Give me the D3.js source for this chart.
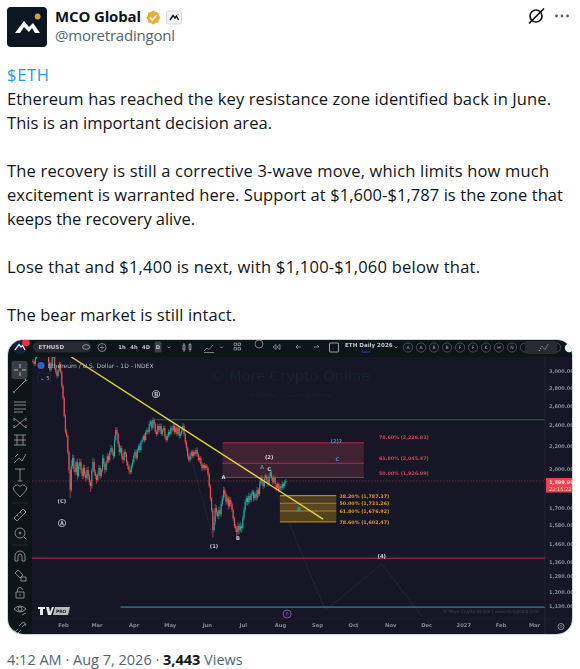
<!DOCTYPE html>
<html>
<head>
<meta charset="utf-8">
<script src="https://cdn.jsdelivr.net/npm/d3@7"></script>
<style>
html,body{margin:0;padding:0;background:#fff;overflow:hidden}
svg{display:block}
</style>
</head>
<body>
<svg id="c" width="580" height="669"></svg>
<script>
// ---------- data ----------
const tweetLines = [
  "Ethereum has reached the key resistance zone identified back in June.",
  "This is an important decision area.",
  "",
  "The recovery is still a corrective 3-wave move, which limits how much",
  "excitement is warranted here. Support at $1,600-$1,787 is the zone that",
  "keeps the recovery alive.",
  "",
  "Lose that and $1,400 is next, with $1,100-$1,060 below that.",
  "",
  "The bear market is still intact."
];
const firstCandle = "2026-01-07";
const closes = [3114,3089,3164,3246,3301,3356,3328,3384,3412,3356,3301,3328,3274,3114,3012,3063,3246,3193,3037,2988,
2938,3012,3089,2988,2821,2682,2489,2328,2290,2142,1988,1829,2021,2090,2005,1971,2055,1939,2021,2055,
1988,1939,2005,1955,1923,1988,1939,1891,1860,1988,2055,1971,1939,1907,1955,2005,1939,1988,2090,2038,
1988,2055,2107,2072,2142,2178,2142,2107,2252,2347,2309,2215,2142,2178,2107,2072,2142,2124,2055,2021,
1988,1971,2021,2055,2107,2142,2090,2160,2196,2160,2233,2252,2290,2252,2328,2347,2328,2407,2427,2367,
2447,2407,2328,2309,2387,2347,2387,2309,2347,2367,2290,2252,2290,2328,2309,2367,2347,2387,2328,2367,
2309,2367,2290,2309,2347,2387,2309,2233,2178,2107,2072,2107,2142,2107,2142,2124,2160,2124,2072,2090,
2038,2005,2030,2005,2021,2005,1955,1860,1769,1683,1549,1601,1697,1669,1641,1683,1655,1726,1769,1829,
1799,1740,1769,1711,1755,1726,1683,1628,1575,1562,1536,1575,1549,1575,1562,1628,1683,1740,1769,1740,
1784,1755,1799,1814,1769,1799,1769,1829,1799,1875,1923,1891,1860,1923,1939,1907,1875,1939,1971,1923,
1891,1923,1875,1844,1875,1829,1860,1844,1875,1860,1891,1899.99];
const upperWicks = [30,20,40,30,20,30,20,30,25,20,15,30,20,30,25,40,30,20,25,20,
30,20,30,25,20,15,15,20,25,15,15,10,50,30,25,30,20,30,25,30,
25,20,30,25,20,25,30,20,15,20,40,25,20,15,20,25,20,15,30,25,
20,15,25,20,15,30,20,25,40,25,30,15,20,25,20,15,20,25,20,15,
15,15,20,25,20,25,20,15,20,25,15,20,15,25,20,25,20,30,25,20,
25,20,15,20,25,20,25,20,15,25,20,15,20,25,20,30,20,25,20,25,
20,25,15,20,25,30,20,15,15,15,20,25,15,20,15,20,20,25,15,20,
15,20,15,20,15,15,15,15,15,10,15,40,30,20,15,25,20,25,20,25,
20,15,25,15,25,20,15,10,10,15,15,25,15,25,15,20,20,20,20,15,
25,20,20,20,15,20,15,25,15,25,20,25,15,25,25,15,15,25,30,20,
15,25,15,10,20,15,20,15,20,15,15,15];
const lowerWicks = [20,25,20,15,20,15,25,20,15,25,30,20,40,30,20,25,20,30,20,25,
30,15,20,20,25,20,15,20,15,20,25,60,15,25,30,25,20,30,15,25,
30,25,20,25,30,15,30,25,45,20,15,20,25,30,15,20,25,15,20,25,
30,15,20,25,15,20,25,30,15,20,15,25,30,15,25,30,15,25,30,25,
30,20,15,20,15,20,25,15,20,25,15,20,15,25,15,20,25,15,20,25,
15,25,20,25,15,20,25,15,20,15,25,20,15,20,25,15,20,15,25,15,
20,15,25,20,15,15,20,25,25,20,15,20,25,15,20,15,20,25,15,20,
15,25,15,20,15,20,20,15,20,15,46,15,20,25,15,20,15,20,15,20,
25,20,15,25,15,20,15,20,15,25,46,20,25,15,30,15,15,15,20,25,
15,20,15,15,25,15,20,15,20,15,15,20,25,15,20,25,20,15,15,20,
20,15,25,20,15,20,15,20,15,20,15,15];

const priceTicks = [3000,2800,2600,2400,2200,2000,1700,1580,1460,1360,1280,1200,1130];
const monthTicks = ["2026-02-01","2026-03-01","2026-04-01","2026-05-01","2026-06-01","2026-07-01","2026-08-01","2026-09-01","2026-10-01","2026-11-01","2026-12-01","2027-01-01","2027-02-01","2027-03-01"];
const monthLabels = ["Feb","Mar","Apr","May","Jun","Jul","Aug","Sep","Oct","Nov","Dec","2027","Feb","Mar"];

const redFibLevels = [2226.83,2045.47,1926.99];
const redFibNames = ["78.60%","61.80%","50.00%"];
const orangeFibLevels = [1787.37,1731.26,1676.92,1602.47];
const orangeFibNames = ["38.20%","50.00%","61.80%","78.60%"];
const redFibDates = ["2026-06-14","2026-10-10"];
const orangeFibDates = ["2026-08-01","2026-09-17"];
const trendDates = ["2026-02-08","2026-09-06"];
const trendPrices = [3180,1621];
const greenLevel = 2450, greenStart = "2026-04-18";
const redLevel = 1378;
const tealLevel = 1125, tealStart = "2026-03-21";
const lastPrice = 1899.99;
const projectionA = [["2026-05-15",2252],["2026-06-06",1503]];
const projectionB = [["2026-07-22",1971],["2026-09-08",1110],["2026-10-25",1345],["2026-11-30",1065]];
const waveLabels = [
  ["2026-04-20",2720,"Ⓑ","#c4c7cf"],["2026-01-31",1745,"(C)","#c4c7cf"],["2026-01-31",1590,"Ⓐ","#c4c7cf"],
  ["2026-06-07",1445,"(1)","#c4c7cf"],["2026-06-27",1495,"B","#c4c7cf"],["2026-06-15",1925,"A","#d8dae0"],
  ["2026-07-23",2095,"(2)","#d8dae0"],["2026-07-17",2005,"A","#2aa198"],["2026-07-23",1990,"C","#d8dae0"],
  ["2026-09-17",2240,"(2)?","#2b9fc0"],["2026-09-18",2075,"C","#2b9fc0"],["2026-08-17",1685,"B","#2b9fc0"],
  ["2026-10-25",1388,"(4)","#d8dae0"]
];
const intervalButtons = ["1h","4h","4D","D"];
const drawingLetters = ["A","A","B","B","F","F","K","H","N"];

// ---------- scales ----------
const svg = d3.select("#c");
const t = s => new Date(s + "T00:00:00Z");
const x = d3.scaleUtc().domain([t("2026-02-01"), t("2027-03-01")]).range([63, 534]);
const y = d3.scaleLog().domain([3000, 1130]).range([371, 606]);
const plot = {l:32, r:545, t:357, b:619};
const frame = {l:8, r:572, t:340, b:634};

const defs = svg.append("defs");
defs.append("filter").attr("id","soft").attr("x","-2%").attr("y","-2%").attr("width","104%").attr("height","104%")
  .append("feGaussianBlur").attr("stdDeviation",0.55);
defs.append("clipPath").attr("id","frameClip").append("rect")
  .attr("x",frame.l).attr("y",frame.t).attr("width",frame.r-frame.l).attr("height",frame.b-frame.t).attr("rx",15);
defs.append("clipPath").attr("id","plotClip").append("rect")
  .attr("x",plot.l).attr("y",plot.t).attr("width",plot.r-plot.l).attr("height",plot.b-plot.t);

// ---------- tweet chrome ----------
const uiFont = "'Open Sans','Noto Sans',sans-serif";
const head = svg.append("g").attr("font-family",uiFont);
head.append("rect").attr("x",7).attr("y",7).attr("width",40).attr("height",40).attr("rx",4).attr("fill","#0d1722");
head.append("path").attr("d","M15,33 L24,21 L29,27 L33,23 L40,33 L35,33 L32,28 L29,32 L24,27 L20,33 Z").attr("fill","#fff");
head.append("circle").attr("cx",37.6).attr("cy",16.5).attr("r",2.9).attr("fill","#c9a34a");
head.append("text").attr("x",55).attr("y",22).attr("font-size",15).attr("font-weight",700).attr("fill","#0f1419")
  .attr("textLength",86).text("MCO Global");
const star = d3.range(16).map(i => { const r = i%2 ? 5.9 : 7.2, a = i*Math.PI/8; return [153.3+r*Math.cos(a), 17.5+r*Math.sin(a)]; });
head.append("path").attr("d",d3.line()(star)+"Z").attr("fill","#e2b033");
head.append("path").attr("d","M150,17.7 L152.4,20 L156.6,15.2").attr("fill","none").attr("stroke","#fff").attr("stroke-width",1.6);
head.append("rect").attr("x",166.5).attr("y",11).attr("width",15).attr("height",13).attr("rx",1.5).attr("fill","#eff3f4").attr("stroke","#d5dcdf");
head.append("path").attr("d","M170,20 L173,15.5 L175,18 L176.5,16 L178.5,20").attr("fill","none").attr("stroke","#0d1722").attr("stroke-width",1.4);
head.append("circle").attr("cx",178).attr("cy",14.5).attr("r",1).attr("fill","#c9a34a");
head.append("text").attr("x",55).attr("y",41).attr("font-size",15).attr("fill","#536471")
  .attr("textLength",120).text("@moretradingonl");
head.append("circle").attr("cx",536).attr("cy",16).attr("r",6).attr("fill","none").attr("stroke","#0f1419").attr("stroke-width",1.7);
head.append("path").attr("d","M529,23.5 L544,8.5").attr("stroke","#0f1419").attr("stroke-width",1.7);
[556.5,562,567.5].forEach(cx => head.append("circle").attr("cx",cx).attr("cy",16).attr("r",1.4).attr("fill","#536471"));

head.append("text").attr("x",7).attr("y",81).attr("font-size",16.5).attr("fill","#1d9bf0").attr("textLength",42).text("$ETH");
const lineWidths = [544,265,0,542,556,188,0,473,0,229];
head.selectAll("text.body").data(tweetLines).join("text").attr("class","body")
  .attr("x",7).attr("y",(d,i)=>105+i*24).attr("font-size",16.5).attr("fill","#0f1419")
  .attr("textLength",(d,i)=>lineWidths[i]||null).text(d=>d);

const foot = head.append("text").attr("x",7).attr("y",665).attr("font-size",14.5).attr("fill","#536471");
foot.append("tspan").text("4:12 AM · Aug 7, 2026 · ");
foot.append("tspan").attr("font-weight",700).attr("fill","#0f1419").text("3,443");
foot.append("tspan").text(" Views");

// ---------- chart image ----------
svg.append("rect").attr("x",frame.l-0.5).attr("y",frame.t-0.5).attr("width",frame.r-frame.l+1).attr("height",frame.b-frame.t+1).attr("rx",15)
  .attr("fill","none").attr("stroke","#cfd9de").attr("stroke-width",1);
const chart = svg.append("g").attr("clip-path","url(#frameClip)").append("g").attr("filter","url(#soft)");
const monoFont = "'DejaVu Sans',sans-serif";
chart.attr("font-family",monoFont);
chart.append("rect").attr("x",frame.l).attr("y",frame.t).attr("width",frame.r-frame.l).attr("height",frame.b-frame.t).attr("fill","#151925");

// watermark
chart.append("text").attr("x",290).attr("y",381).attr("text-anchor","middle").attr("font-size",14.6).attr("fill","#1c202d").text("© More Crypto Online");
chart.append("text").attr("x",290).attr("y",397).attr("text-anchor","middle").attr("font-size",4.8).attr("fill","#1f2431").text("MCO Global  |  www.mcoglobal.com");

const plotG = chart.append("g").attr("clip-path","url(#plotClip)");
const px = d => x(t(d));

// faint projection paths
const projLine = d3.line().x(d=>px(d[0])).y(d=>y(d[1]));
[projectionA, projectionB].forEach(p => plotG.append("path").attr("d",projLine(p)).attr("fill","none").attr("stroke","#222632").attr("stroke-width",0.9));

// zones
function zone(levels, dates, fills, stroke){
  const x0 = px(dates[0]), x1 = px(dates[1]);
  d3.pairs(levels).forEach((p,i) => plotG.append("rect").attr("x",x0).attr("width",x1-x0)
    .attr("y",y(p[0])).attr("height",y(p[1])-y(p[0])).attr("fill",fills[i]));
  levels.forEach(l => plotG.append("line").attr("x1",x0).attr("x2",x1).attr("y1",y(l)).attr("y2",y(l)).attr("stroke",stroke).attr("stroke-width",1.1));
}
zone(redFibLevels, redFibDates, ["#3f2233","#3a2030"], "#a03350");
zone(orangeFibLevels, orangeFibDates, ["#4f3e20","#5a4620","#54421f"], "#b38520");

// horizontal levels
plotG.append("line").attr("x1",px(greenStart)).attr("x2",plot.r).attr("y1",y(greenLevel)).attr("y2",y(greenLevel)).attr("stroke","#33603f").attr("stroke-width",1.1);
plotG.append("line").attr("x1",plot.l).attr("x2",plot.r).attr("y1",y(redLevel)).attr("y2",y(redLevel)).attr("stroke","#8a2440").attr("stroke-width",1.3);
plotG.append("line").attr("x1",px(tealStart)).attr("x2",plot.r).attr("y1",y(tealLevel)).attr("y2",y(tealLevel)).attr("stroke","#2a8598").attr("stroke-width",1.2);
plotG.append("line").attr("x1",plot.l).attr("x2",plot.r).attr("y1",y(lastPrice)).attr("y2",y(lastPrice)).attr("stroke","#7a2c40").attr("stroke-width",0.8).attr("stroke-dasharray","1.5 1.5");

// candles
const dayMs = 864e5, t0 = t(firstCandle).getTime();
const candles = closes.map((c,i)=>{
  const o = i ? closes[i-1] : c*1.004;
  return {date:new Date(t0+i*dayMs), o, c, h:Math.max(o,c)+upperWicks[i], l:Math.min(o,c)-lowerWicks[i]};
});
const candleColor = d => d.c>=d.o ? "#26a69a" : "#ef5350";
const cg = plotG.append("g");
cg.selectAll("line").data(candles).join("line")
  .attr("x1",d=>x(d.date)).attr("x2",d=>x(d.date)).attr("y1",d=>y(d.h)).attr("y2",d=>y(d.l))
  .attr("stroke",candleColor).attr("stroke-width",0.6);
cg.selectAll("rect").data(candles).join("rect")
  .attr("x",d=>x(d.date)-0.55).attr("width",1.1)
  .attr("y",d=>y(Math.max(d.o,d.c))).attr("height",d=>Math.max(0.6,Math.abs(y(d.o)-y(d.c))))
  .attr("fill",candleColor);

// trend line
plotG.append("line").attr("x1",px(trendDates[0])).attr("y1",y(trendPrices[0])).attr("x2",px(trendDates[1])).attr("y2",y(trendPrices[1]))
  .attr("stroke","#e0d440").attr("stroke-width",1.35);

// wave labels
plotG.selectAll("text.wave").data(waveLabels).join("text").attr("class","wave")
  .attr("x",d=>px(d[0])).attr("y",d=>y(d[1])).attr("text-anchor","middle").attr("dominant-baseline","middle")
  .attr("font-size",d=>d[2].length===1 && d[2]>"Z" ? 7.5 : 5.2).attr("font-weight",700).attr("fill",d=>d[3]).text(d=>d[2]);
plotG.append("circle").attr("cx",px("2026-08-07")).attr("cy",614).attr("r",4).attr("fill","none").attr("stroke","#9c4fc0").attr("stroke-width",0.9);
plotG.append("text").attr("x",px("2026-08-07")).attr("y",616).attr("text-anchor","middle").attr("font-size",5).attr("fill","#9c4fc0").text("F");

// fib labels
const fmt = d3.format(",.2f");
chart.selectAll("text.rf").data(redFibLevels).join("text").attr("class","rf")
  .attr("x",379).attr("y",(d,i)=>y(d)-[3.6,3.2,2.5][i]).attr("font-size",4.8).attr("font-weight",600).attr("fill","#de3f5c")
  .text((d,i)=>`${redFibNames[i]} (${fmt(d)})`);
chart.selectAll("text.of").data(orangeFibLevels).join("text").attr("class","of")
  .attr("x",339.5).attr("y",(d,i)=>y(d)+2).attr("font-size",4.8).attr("font-weight",600).attr("fill","#e09a20")
  .text((d,i)=>`${orangeFibNames[i]} (${fmt(d)})`);

// legend text on plot
chart.append("circle").attr("cx",41).attr("cy",365.5).attr("r",3.6).attr("fill","#3d5fc4");
chart.append("text").attr("x",47.5).attr("y",367.5).attr("font-size",6).attr("fill","#b2b5be").text("Ethereum / U.S. Dollar - 1D - INDEX");
chart.append("rect").attr("x",37.5).attr("y",373).attr("width",13).attr("height",9).attr("rx",1.5).attr("fill","#151925").attr("stroke","#2a2e39").attr("stroke-width",0.6);
chart.append("text").attr("x",40).attr("y",379.5).attr("font-size",5.5).attr("fill","#b2b5be").text("⌄ 5");

// toolbars
chart.append("rect").attr("x",frame.l).attr("y",frame.t).attr("width",frame.r-frame.l).attr("height",plot.t-frame.t).attr("fill","#101219");
chart.append("rect").attr("x",frame.l).attr("y",frame.t).attr("width",plot.l-frame.l).attr("height",frame.b-frame.t).attr("fill","#101219");
chart.append("line").attr("x1",plot.r).attr("x2",plot.r).attr("y1",plot.t).attr("y2",frame.b).attr("stroke","#262a35").attr("stroke-width",0.7);
chart.append("line").attr("x1",plot.l).attr("x2",frame.r).attr("y1",plot.b).attr("y2",plot.b).attr("stroke","#1f232e").attr("stroke-width",0.7);

// top toolbar content
chart.append("circle").attr("cx",20).attr("cy",347).attr("r",7).attr("fill","#16233a");
chart.append("path").attr("d","M15,350 L19,344.5 L21,347 L22.5,345.5 L25,350").attr("fill","none").attr("stroke","#fff").attr("stroke-width",1.2);
chart.append("circle").attr("cx",26).attr("cy",342.5).attr("r",3.8).attr("fill","#e5303f");
chart.append("rect").attr("x",33).attr("y",341.5).attr("width",58).attr("height",11).attr("rx",5.5).attr("fill","#2a2c33");
chart.append("text").attr("x",38.5).attr("y",349).attr("font-size",5.6).attr("font-weight",700).attr("fill","#c2c4ca").text("ETHUSD");
chart.append("ellipse").attr("cx",86).attr("cy",347).attr("rx",3.5).attr("ry",2.3).attr("fill","none").attr("stroke","#b2b5be").attr("stroke-width",0.7);
chart.append("circle").attr("cx",102).attr("cy",347.5).attr("r",4).attr("fill","none").attr("stroke","#b2b5be").attr("stroke-width",0.7);
chart.append("path").attr("d","M100,347.5h4M102,345.5v4").attr("stroke","#b2b5be").attr("stroke-width",0.6);
chart.append("rect").attr("x",154.5).attr("y",341.5).attr("width",7).attr("height",11).attr("rx",1.5).attr("fill","#3d3f46");
const intX = d3.scalePoint().domain(d3.range(intervalButtons.length)).range([122,158]);
chart.selectAll("text.iv").data(intervalButtons).join("text").attr("class","iv")
  .attr("x",(d,i)=>intX(i)).attr("y",349).attr("text-anchor","middle").attr("font-size",5.2).attr("font-weight",600).attr("fill","#c2c4ca").text(d=>d);
chart.append("path").attr("d",[
  "M167.5,346.5l1.5,1.5l1.5,-1.5","M184,343v9M183,345h2v5h-2zM190,343v9M189,344.5h2v5h-2z",
  "M204,351l3,-3l2,1.5l4,-4.5M204,352.5h10","M220,346.5l1.5,1.5l1.5,-1.5",
  "M234,343h2.5v2.5h-2.5zM238,343h2.5v2.5h-2.5zM234,347.5h2.5v2.5h-2.5zM238,347.5h2.5v2.5h-2.5z",
  "M255,344a4,4 0 1,0 8,0a4,4 0 1,0 -8,0z","M280,344.5l-3,2.5l3,2.5zM276,344.5l-3,2.5l3,2.5z",
  "M301,347h-5l2,-2M296,347l2,2","M314,347h5l-2,-2"
].join("")).attr("fill","none").attr("stroke","#a8abb3").attr("stroke-width",0.7);
chart.append("rect").attr("x",329.5).attr("y",343).attr("width",9).attr("height",9).attr("rx",0.6).attr("fill","none").attr("stroke","#c2c4ca").attr("stroke-width",0.8);
chart.append("text").attr("x",345).attr("y",347).attr("font-size",5.6).attr("font-weight",600).attr("fill","#c2c4ca").text("ETH Daily 2026");
chart.append("text").attr("x",366).attr("y",352.5).attr("text-anchor","middle").attr("font-size",3.6).attr("fill","#2962ff").text("Save");
chart.append("path").attr("d","M394.5,346.5l1.5,1.5l1.5,-1.5").attr("fill","none").attr("stroke","#a8abb3").attr("stroke-width",0.7);
const letterX = d3.scaleLinear().domain([0,drawingLetters.length-1]).range([408,512]);
const lg = chart.selectAll("g.letter").data(drawingLetters).join("g").attr("class","letter").attr("transform",(d,i)=>`translate(${letterX(i)},347.5)`);
lg.append("circle").attr("r",4.6).attr("fill","none").attr("stroke","#70737c").attr("stroke-width",0.6);
lg.append("text").attr("y",1.7).attr("text-anchor","middle").attr("font-size",4.6).attr("fill","#a8abb3").text(d=>d);
[525,556].forEach(cx=>chart.append("circle").attr("cx",cx).attr("cy",347.5).attr("r",4.6).attr("fill","none").attr("stroke","#70737c").attr("stroke-width",0.6));
chart.append("rect").attr("x",525).attr("y",341).attr("width",32).attr("height",13).attr("rx",3).attr("fill","#2a2c33");
chart.append("path").attr("d","M539,351l3,-4.5l3,3l3,-5").attr("fill","none").attr("stroke","#e0e1e5").attr("stroke-width",0.9).attr("stroke-dasharray","1 1.4");
chart.append("circle").attr("cx",569).attr("cy",348).attr("r",4.2).attr("fill","#eceef1");

// left toolbar icons
chart.append("rect").attr("x",11.5).attr("y",361).attr("width",16).attr("height",18).attr("rx",2).attr("fill","#3b3d44");
const toolY = [370,386,406,423,440,458,475,491,515,533,556,575,593,610,628];
const toolPaths = [
  "M-6,0h4M2,0h4M0,-6v4M0,2v4",
  "M-6,6L6,-6M-6.5,5a1,1 0 1,0 1.5,1.5M6,-7a1,1 0 1,0 1,1",
  "M-6,-4h12M-6,-1h12M-6,3h12M-6,6h9",
  "M-6,-5L6,5M-6,5L6,-5M-6,-5v3M6,-5v3M-6,5v-3M6,5v-3",
  "M-6,-5h12M-6,0h12M-6,5h12M-3,-5v10M3,-5v10",
  "M-6,5L-1,0L2,3L6,-4M-5,-1l3,-3",
  "M-5,-6h10M0,-6v12M-2.5,6h5",
  "M0,6L-6,-0.5a3.4,3.4 0 0,1 6,-4a3.4,3.4 0 0,1 6,4Z",
  "M-6,3L3,-6L6,-3L-3,6ZM-3,0l1.5,1.5M0,-3l1.5,1.5",
  "M-5,0a5,5 0 1,0 10,0a5,5 0 1,0 -10,0M-1.5,0h3M0,-1.5v3M4,4l2.5,2.5",
  "M-5,5v-5a5,5 0 0,1 10,0v5h-3v-5a2,2 0 0,0 -4,0v5Z",
  "M-5,-2L-2,-5L3,0L0,3ZM1,2h5v4h-5Z",
  "M-4,-1h8v6h-8ZM-2.5,-1v-2a2.5,2.5 0 0,1 5,0M0,1v2",
  "M-6,-1q6,-6 12,0q-6,6 -12,0M-2,-1a2,2 0 1,0 4,0a2,2 0 1,0 -4,0M2,5l4,-2",
  "M-5,4L-2,1M2,-1L5,-4M-5,2a2,2 0 0,0 3,3l3,-3M5,-2a2,2 0 0,0 -3,-3l-3,3"
];
chart.selectAll("path.tool").data(toolPaths).join("path").attr("class","tool")
  .attr("transform",(d,i)=>`translate(20,${toolY[i]})`).attr("d",d=>d)
  .attr("fill","none").attr("stroke",(d,i)=>i?"#a4a7af":"#d8dae0").attr("stroke-width",0.8);
[503,545].forEach(yy=>chart.append("line").attr("x1",12).attr("x2",28).attr("y1",yy).attr("y2",yy).attr("stroke","#2e3038").attr("stroke-width",0.7));

// axes
const yAxis = d3.axisRight(y).tickValues(priceTicks).tickFormat(d3.format(",.2f")).tickSize(0).tickPadding(0);
const yg = chart.append("g").attr("transform","translate(549,0)").call(yAxis);
const xAxis = d3.axisBottom(x).tickValues(monthTicks.map(t)).tickFormat((d,i)=>monthLabels[i]).tickSize(0).tickPadding(0);
const xg = chart.append("g").attr("transform","translate(0,623)").call(xAxis);
[yg,xg].forEach(g=>{
  g.select(".domain").remove();
  g.selectAll("text").attr("font-family",monoFont).attr("font-size",5).attr("font-weight",600).attr("fill","#868994");
});
xg.selectAll("text").attr("font-size",5.2);

// last price tag
chart.append("rect").attr("x",546).attr("y",478).attr("width",26).attr("height",14.5).attr("fill","#f0404b");
chart.append("text").attr("x",549).attr("y",484).attr("font-size",5).attr("font-weight",600).attr("fill","#ffe3e3").text(fmt(lastPrice));
chart.append("text").attr("x",549).attr("y",490.5).attr("font-size",5).attr("fill","#ffd0d0").text("22:15:22");

// logo & bottom text
chart.append("path").attr("d","M38,607h7v2h-2v6h-3v-6h-2zM46,607h3l1,5l2,-5h2l-3,8h-3z").attr("fill","#e8e9ec");
chart.append("path").attr("d","M55,607h15l-2,8h-15z").attr("fill","#b8bac0");
chart.append("text").attr("x",56).attr("y",613).attr("font-size",4.4).attr("font-weight",700).attr("fill","#1a1d26").text("PRO");
chart.append("text").attr("x",443).attr("y",613).attr("font-size",4.3).attr("fill","#3f4451").text("© More Crypto Online  |  www.mcoglobal.com");
chart.append("circle").attr("cx",561).attr("cy",626.5).attr("r",3).attr("fill","none").attr("stroke","#a8abb3").attr("stroke-width",0.8);
chart.append("circle").attr("cx",561).attr("cy",626.5).attr("r",1).attr("fill","none").attr("stroke","#a8abb3").attr("stroke-width",0.5);
</script>
</body>
</html>
